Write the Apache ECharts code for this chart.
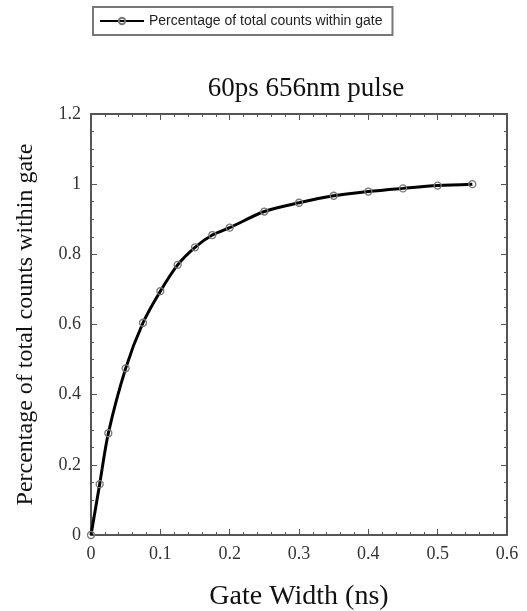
<!DOCTYPE html>
<html>
<head>
<meta charset="utf-8">
<script src="https://cdn.jsdelivr.net/npm/echarts@6/dist/echarts.min.js"></script>
<style>
  html, body { margin: 0; padding: 0; background: #fff; }
  #chart { width: 527px; height: 611px; }
</style>
</head>
<body>
<div id="chart"></div>
<script>
// gate width (ns) and fraction of counts inside the gate
var gateWidth = [0, 0.0125, 0.025, 0.05, 0.075, 0.1, 0.125, 0.15, 0.175, 0.2, 0.25, 0.3, 0.35, 0.4, 0.45, 0.5, 0.55]
var fraction = [0, 0.145, 0.29, 0.475, 0.605, 0.695, 0.77, 0.82, 0.855, 0.876, 0.922, 0.947, 0.967, 0.979, 0.988, 0.996, 1.0]
var seriesName = 'Percentage of total counts within gate'

var serif = '"Liberation Serif", "DejaVu Serif", serif'
var axisColor = '#555'

var chart = echarts.init(document.getElementById('chart'))

function frameAxis(pos, opts) {
  // axis used only for the box edge and the inner ticks
  return Object.assign({
    type: 'value',
    position: pos,
    axisLine: { show: true, onZero: false, lineStyle: { color: axisColor, width: 2 } },
    axisTick: { show: true, inside: true, length: 6, lineStyle: { color: axisColor, width: 1 } },
    minorTick: { show: true, length: 3, lineStyle: { color: axisColor, width: 1 } },
    splitLine: { show: false },
    axisLabel: { show: false }
  }, opts)
}

var data = gateWidth.map(function (x, i) { return [x, fraction[i]] })

chart.setOption({
  backgroundColor: '#fff',
  animation: false,
  title: {
    text: '60ps 656nm pulse',
    left: 301,
    textAlign: 'center',
    top: 70,
    textStyle: { fontFamily: serif, fontWeight: 'normal', fontSize: 27, color: '#111' }
  },
  legend: {
    left: 93,
    top: 7,
    padding: [7, 10, 7, 6],
    borderColor: '#777',
    borderWidth: 2,
    itemWidth: 44,
    itemHeight: 8,
    itemGap: 0,
    data: [seriesName],
    textStyle: { fontFamily: '"Liberation Sans", Arial, sans-serif', fontSize: 14, color: '#222' }
  },
  grid: { left: 91, right: 20, top: 114, bottom: 76, outerBoundsMode: 'none' },
  xAxis: [
    frameAxis('bottom', {
      min: 0, max: 0.6, interval: 0.1,
      minorTick: { show: true, splitNumber: 5, length: 3, lineStyle: { color: axisColor } },
      axisLabel: {
        show: true, margin: 10, fontFamily: serif, fontSize: 18, color: '#333',
        formatter: function (v) { return String(+v.toFixed(1)) }
      },
      name: 'Gate Width (ns)',
      nameLocation: 'middle',
      nameGap: 48,
      nameTextStyle: { fontFamily: serif, fontSize: 28, color: '#111' }
    }),
    frameAxis('top', {
      min: 0, max: 0.6, interval: 0.1,
      minorTick: { show: true, splitNumber: 5, length: 3, lineStyle: { color: axisColor } }
    })
  ],
  yAxis: [
    frameAxis('left', {
      min: 0, max: 1.2, interval: 0.2,
      minorTick: { show: true, splitNumber: 4, length: 3, lineStyle: { color: axisColor } },
      axisLabel: {
        show: true, margin: 10, fontFamily: serif, fontSize: 18, color: '#333',
        formatter: function (v) { return String(+v.toFixed(1)) }
      },
      name: seriesName,
      nameLocation: 'middle',
      nameGap: 53,
      nameTextStyle: { fontFamily: serif, fontSize: 24, color: '#111' }
    }),
    frameAxis('right', {
      min: 0, max: 1.2, interval: 0.2,
      minorTick: { show: true, splitNumber: 4, length: 3, lineStyle: { color: axisColor } }
    })
  ],
  series: [{
    name: seriesName,
    type: 'line',
    data: data,
    smooth: 0.3,
    symbol: 'circle',
    symbolSize: 7,
    lineStyle: { color: '#000', width: 3 },
    itemStyle: { color: 'rgba(255,255,255,0)', borderColor: '#777', borderWidth: 1.3 },
    z: 3
  }]
})
</script>
</body>
</html>
